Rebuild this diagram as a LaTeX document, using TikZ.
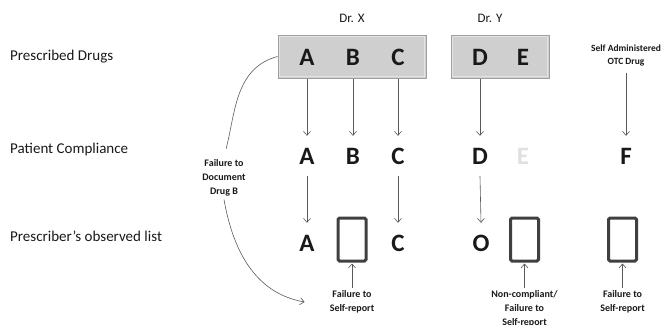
\documentclass[tikz,border=0pt]{standalone}
\usepackage{fontspec}
\setmainfont{Carlito}
\usetikzlibrary{positioning,arrows.meta,calc}

\begin{document}
\begin{tikzpicture}[x=1pt,y=-1pt,
    text=black!90,
    rowlabel/.style={anchor=west,inner sep=0pt,font=\fontsize{15}{18}\selectfont},
    drug/.style={inner sep=0pt,minimum width=20pt,minimum height=40pt,
                 font=\fontsize{25}{30}\selectfont\bfseries},
    note/.style={align=center,inner sep=3pt,font=\fontsize{10}{14}\selectfont\bfseries},
    doctor/.style={inner sep=0pt,font=\fontsize{13}{15}\selectfont},
    rx/.style={draw=gray!75,fill=gray!38,line width=1pt,minimum height=43pt},
    rim/.style={draw=gray!22,line width=1.2pt},
    blank/.style={draw=black!75,line width=3pt,rounded corners=1.5pt,
                  minimum width=28pt,minimum height=43pt},
    edge/.style={-{Straight Barb[length=4pt,width=7pt]},draw=gray!70!black,semithick},
    swoop/.style={draw=gray!70!black,semithick}
]
  \useasboundingbox (0,0) rectangle (672,324);

  \node[rowlabel] (lrx) at (10,57) {Prescribed Drugs};
  \node[rowlabel] (lpc) at (10,149) {Patient Compliance};
  \node[rowlabel] (lobs) at (10,236) {Prescriber’s observed list};

  \node[rx,minimum width=148pt] (rxx) at (352,56.5) {};
  \node[rx,minimum width=98pt] (rxy) at (500,56.5) {};
  \draw[rim] ($(rxx.north west)+(2,2)$) rectangle ($(rxx.south east)+(-2,-2)$);
  \draw[rim] ($(rxy.north west)+(2,2)$) rectangle ($(rxy.south east)+(-2,-2)$);
  \node[doctor] (drx) at (352,18) {Dr. X};
  \node[doctor] (dry) at (490,18) {Dr. Y};

  \node[drug] (a1) at (307,57) {A};
  \node[drug] (b1) at (353,57) {B};
  \node[drug] (c1) at (398,57) {C};
  \node[drug] (d1) at (480,57) {D};
  \node[drug] (e1) at (523,57) {E};
  \node[note,font=\fontsize{9.5}{13}\selectfont\bfseries] (otc) at (626,55) {Self Administered\\OTC Drug};

  \node[drug] (a2) at (307,156) {A};
  \node[drug] (b2) at (353,156) {B};
  \node[drug] (c2) at (398,156) {C};
  \node[drug] (d2) at (480,156) {D};
  \node[drug,text=black!12] (e2) at (523,156) {E};
  \node[drug] (f2) at (626,156) {F};

  \node[drug] (a3) at (307,243) {A};
  \node[blank] (bl1) at (352,239.5) {};
  \node[drug] (c3) at (398,243) {C};
  \node[drug] (o3) at (481,243) {O};
  \node[blank] (bl2) at (524.5,239.5) {};
  \node[blank] (bl3) at (622.5,239.5) {};

  \node[note] (dnote) at (224,178) {Failure to\\Document\\Drug B};
  \node[note,below=25pt of bl1] (fs1) {Failure to\\Self-report};
  \node[note,below=25pt of bl2] (fs2) {Non-compliant/\\Failure to\\Self-report};
  \node[note,below=25pt of bl3] (fs3) {Failure to\\Self-report};
  \coordinate[left=22pt of fs1] (miss);

  \draw[edge] (a1 |- rxx.south) -- (a2.north);
  \draw[edge] (b1 |- rxx.south) -- (b2.north);
  \draw[edge] (c1 |- rxx.south) -- (c2.north);
  \draw[edge] (d1 |- rxy.south) -- (d2.north);
  \draw[edge,shorten <=4pt] (otc.south -| f2) -- (f2.north);
  \draw[edge] (a2.south) -- (a3.north);
  \draw[edge] (c2.south) -- (c3.north);
  \draw[edge] (d2.south) -- (o3.north);
  \draw[edge,shorten >=1pt] (fs1.north) -- (bl1.south);
  \draw[edge,shorten >=1pt] (fs2.north) -- (bl2.south);
  \draw[edge,shorten >=1pt] (fs3.north) -- (bl3.south);

  \draw[swoop,shorten >=8pt] (rxx.west) to[out=195,in=75] (dnote.north);
  \draw[swoop,-{Straight Barb[length=4pt,width=7pt]}] (dnote.south) to[out=-80,in=170] (miss);
\end{tikzpicture}
\end{document}
